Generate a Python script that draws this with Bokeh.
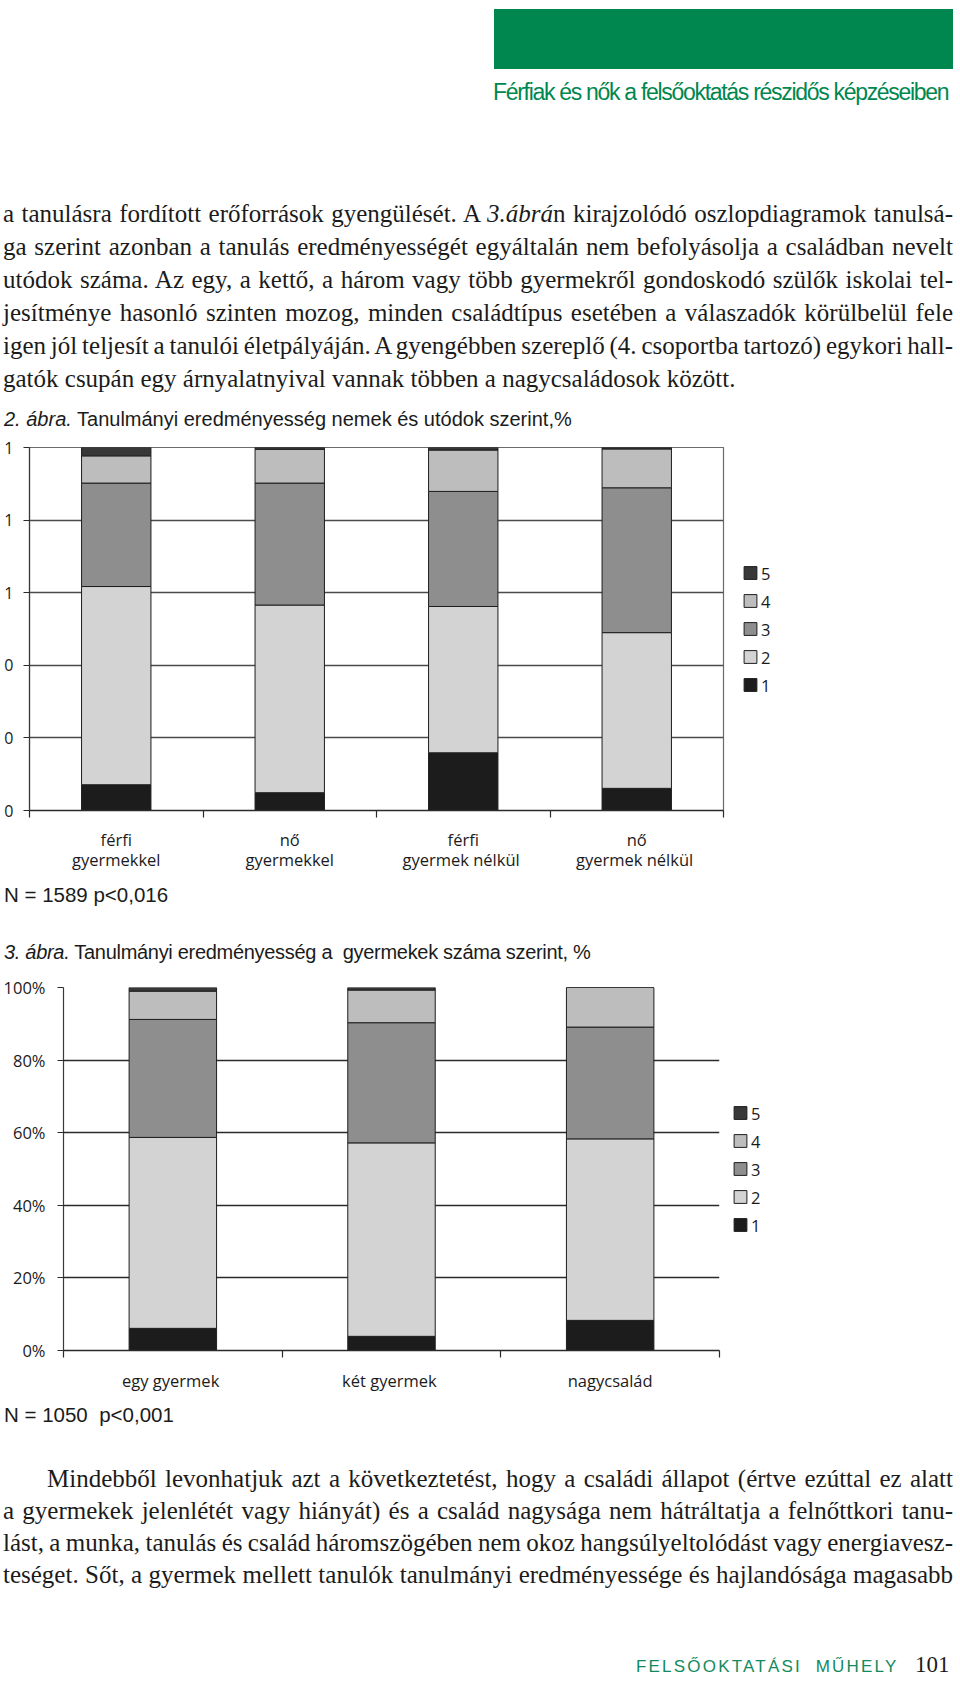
from bokeh.plotting import figure
from bokeh.models import (ColumnDataSource, Range1d, FixedTicker, NumeralTickFormatter,
                          Legend, LegendItem, Div)
from bokeh.core.properties import value
from bokeh.embed import file_html
from bokeh.resources import INLINE

# ---------------- data ----------------
grades = ["1", "2", "3", "4", "5"]

fig2_categories = ["férfi\ngyermekkel", "nő\ngyermekkel", "férfi\ngyermek  nélkül", "nő\ngyermek  nélkül"]
fig2_grade1 = [0.071, 0.049, 0.159, 0.061]
fig2_grade2 = [0.546, 0.517, 0.403, 0.429]
fig2_grade3 = [0.285, 0.336, 0.317, 0.399]
fig2_grade4 = [0.075, 0.093, 0.114, 0.107]
fig2_grade5 = [0.023, 0.005, 0.007, 0.004]
fig2_yticks = [0, 0.2, 0.4, 0.6, 0.8, 1.0]

fig3_categories = ["egy  gyermek", "két  gyermek", "nagycsalád"]
fig3_grade1 = [0.061, 0.039, 0.083]
fig3_grade2 = [0.526, 0.533, 0.500]
fig3_grade3 = [0.325, 0.331, 0.308]
fig3_grade4 = [0.078, 0.090, 0.109]
fig3_grade5 = [0.010, 0.007, 0.000]
fig3_yticks = [0, 0.2, 0.4, 0.6, 0.8, 1.0]

para1_lines = [
    "a tanulásra fordított erőforrások gyengülését. A <i>3.ábrá</i>n kirajzolódó oszlopdiagramok tanulsá-",
    "ga szerint azonban a tanulás eredményességét egyáltalán nem befolyásolja a családban nevelt",
    "utódok száma. Az egy, a kettő, a három vagy több gyermekről gondoskodó szülők iskolai tel-",
    "jesítménye hasonló szinten mozog, minden családtípus esetében a válaszadók körülbelül fele",
    "igen jól teljesít a tanulói életpályáján. A gyengébben szereplő (4. csoportba tartozó) egykori hall-",
    "gatók csupán egy árnyalatnyival vannak többen a nagycsaládosok között.",
]
para2_lines = [
    "Mindebből levonhatjuk azt a következtetést, hogy a családi állapot (értve ezúttal ez alatt",
    "a gyermekek jelenlétét vagy hiányát) és a család nagysága nem hátráltatja a felnőttkori tanu-",
    "lást, a munka, tanulás és család háromszögében nem okoz hangsúlyeltolódást vagy energiavesz-",
    "teséget. Sőt, a gyermek mellett tanulók tanulmányi eredményessége és hajlandósága magasabb",
]
header_text = "Férfiak és nők a felsőoktatás részidős képzéseiben"
caption2 = "<i>2. ábra.</i> Tanulmányi eredményesség nemek és utódok szerint,%"
caption3 = "<i>3. ábra.</i> Tanulmányi eredményesség a&nbsp; gyermekek száma szerint, %"
note2 = "N = 1589 p&lt;0,016"
note3 = "N = 1050&nbsp; p&lt;0,001"
footer_text = "FELSŐOKTATÁSI&nbsp; MŰHELY"
page_number = "101"

# ---------------- styles ----------------
grade_colors = ["#1c1c1c", "#d3d3d3", "#8e8e8e", "#bdbdbd", "#383838"]
GREEN = "#00874f"
INK = "#1b1b1b"
SANS = "Liberation Sans"
SERIF = "Liberation Serif"
METRICS = {SANS: (0.905, 0.212), SERIF: (0.891, 0.216)}
W = 960


def line_top(baseline, fs, family):
    a, d = METRICS[family]
    return baseline - fs / 2 - (a - d) / 2 * fs


def text_at(x, baseline, html, fs, family=SANS, color=INK, extra=""):
    top = line_top(baseline, fs, family)
    return (f'<div style="position:absolute;left:{x}px;top:{top:.1f}px;'
            f"font-family:'{family}';font-size:{fs}px;line-height:{fs}px;"
            f'color:{color};white-space:nowrap;{extra}">{html}</div>')


def justified(x, baseline, width, html, fs, family=SERIF, color=INK):
    top = line_top(baseline, fs, family)
    return (f'<div style="position:absolute;left:{x}px;top:{top:.1f}px;width:{width}px;'
            f"font-family:'{family}';font-size:{fs}px;line-height:{fs}px;color:{color};"
            f'text-align:justify;text-align-last:justify;word-spacing:-4px;white-space:normal">{html}</div>')


def block(inner, top, h):
    # inner coordinates are page coordinates; shift into the block
    html = (f'<div style="position:relative;width:{W}px;height:{h}px;margin:0;padding:0">'
            f'<div style="position:absolute;left:0;top:{-top}px;width:{W}px">{inner}</div></div>')
    return Div(text=html, width=W, height=h, margin=0)


def stacked_chart(categories, series, yticks, yfmt, frame_w, frame_h, b_left, b_top, b_bottom,
                  ytick_fs, xlab_fs, xlab_standoff, ylab_standoff, legend_gap, outline_color, grid_color):
    n = len(categories)
    centers = [i + 0.5 for i in range(n)]
    data = {"x": centers}
    keys = []
    for g, vals in zip(grades, series):
        data["g" + g] = vals
        keys.append("g" + g)
    src = ColumnDataSource(data)
    p = figure(frame_width=frame_w, frame_height=frame_h, x_range=Range1d(0, n), y_range=Range1d(0, 1),
               output_backend="svg", toolbar_location=None, margin=0,
               min_border_left=b_left, min_border_right=W - b_left - frame_w,
               min_border_top=b_top, min_border_bottom=b_bottom)
    p.outline_line_color = outline_color
    p.outline_line_width = 1.2
    p.background_fill_color = "white"
    p.border_fill_color = "white"
    rs = p.vbar_stack(keys, x="x", width=0.4, source=src, fill_color=grade_colors,
                      line_color="#1e1e1e", line_width=1)

    xa = p.xaxis[0]
    xa.ticker = FixedTicker(ticks=centers, minor_ticks=list(range(n + 1)))
    xa.major_label_overrides = {c: lab for c, lab in zip(centers, categories)}
    xa.major_tick_line_color = None
    xa.major_tick_out = 0
    xa.major_tick_in = 0
    xa.minor_tick_line_color = "#2a2a2a"
    xa.minor_tick_line_width = 1.2
    xa.minor_tick_out = 7
    xa.minor_tick_in = 0
    xa.axis_line_color = "#2a2a2a"
    xa.axis_line_width = 1.3
    xa.major_label_standoff = xlab_standoff
    xa.major_label_text_font = "Open Sans"
    xa.major_label_text_font_size = xlab_fs
    xa.major_label_text_color = INK
    xa.major_label_text_line_height = 0.88

    ya = p.yaxis[0]
    ya.ticker = FixedTicker(ticks=yticks)
    ya.formatter = NumeralTickFormatter(format=yfmt)
    ya.major_tick_out = 6
    ya.major_tick_in = 0
    ya.major_tick_line_color = "#2a2a2a"
    ya.minor_tick_line_color = None
    ya.axis_line_color = "#3a3a3a"
    ya.axis_line_width = 1.2
    ya.major_label_standoff = ylab_standoff
    ya.major_label_text_font = "Open Sans"
    ya.major_label_text_font_size = ytick_fs
    ya.major_label_text_color = INK

    p.ygrid.ticker = FixedTicker(ticks=yticks)
    p.ygrid.grid_line_color = grid_color
    p.ygrid.grid_line_width = 1.3
    p.xgrid.visible = False

    items = [LegendItem(label=g, renderers=[r]) for g, r in zip(grades, rs)][::-1]
    legend = Legend(items=items, location="center_left", orientation="vertical",
                    glyph_width=16, glyph_height=16, label_height=16, spacing=5,
                    padding=0, margin=legend_gap, border_line_color=None,
                    background_fill_alpha=0, label_standoff=3,
                    label_text_font="Open Sans", label_text_font_size="16.5px",
                    label_text_color=INK)
    p.add_layout(legend, "right")
    return p


# ---------------- text blocks (page coordinates) ----------------
inner1 = f'<div style="position:absolute;left:494px;top:9px;width:459px;height:60px;background:{GREEN}"></div>'
inner1 += text_at(493, 100, header_text, 23, SANS, GREEN, "letter-spacing:-1.3px")
for k, ln in enumerate(para1_lines):
    b = 222 + 33 * k
    if k < len(para1_lines) - 1:
        inner1 += justified(3, b, 950, ln, 25)
    else:
        inner1 += text_at(3, b, ln, 25, SERIF)
inner1 += text_at(4, 426, caption2, 20, SANS, INK, "letter-spacing:0px")
div1 = block(inner1, 0, 432)

inner2 = text_at(4, 901, note2, 20.5, SANS, INK, "letter-spacing:0px")
inner2 += text_at(4, 958, caption3, 20, SANS, INK, "letter-spacing:-0.3px")
div2 = block(inner2, 872, 100)

inner3 = text_at(4, 1421, note3, 20.5, SANS, INK, "letter-spacing:0px")
for k, ln in enumerate(para2_lines):
    b = 1486 + 32 * k
    if k == 0:
        inner3 += justified(47, b, 906, ln, 25)
    else:
        inner3 += justified(3, b, 950, ln, 25)
inner3 += text_at(636, 1671, footer_text, 17, SANS, "#138a5e", "letter-spacing:2.2px")
inner3 += text_at(915, 1671, page_number, 23, SERIF)
div3 = block(inner3, 1400, 284)

# ---------------- charts ----------------
p1 = stacked_chart(fig2_categories,
                   [fig2_grade1, fig2_grade2, fig2_grade3, fig2_grade4, fig2_grade5],
                   fig2_yticks, "0", 694, 363, 29, 15, 62,
                   "16px", "16.5px", 10, 10, 19, "#6a6a6a", "#4a4a4a")
p2 = stacked_chart(fig3_categories,
                   [fig3_grade1, fig3_grade2, fig3_grade3, fig3_grade4, fig3_grade5],
                   fig3_yticks, "0%", 656, 363, 63, 14, 51,
                   "16.5px", "16.5px", 11, 12, 13, None, "#2a2a2a")

open("out.html", "w").write(file_html([div1, p1, div2, p2, div3], INLINE))
